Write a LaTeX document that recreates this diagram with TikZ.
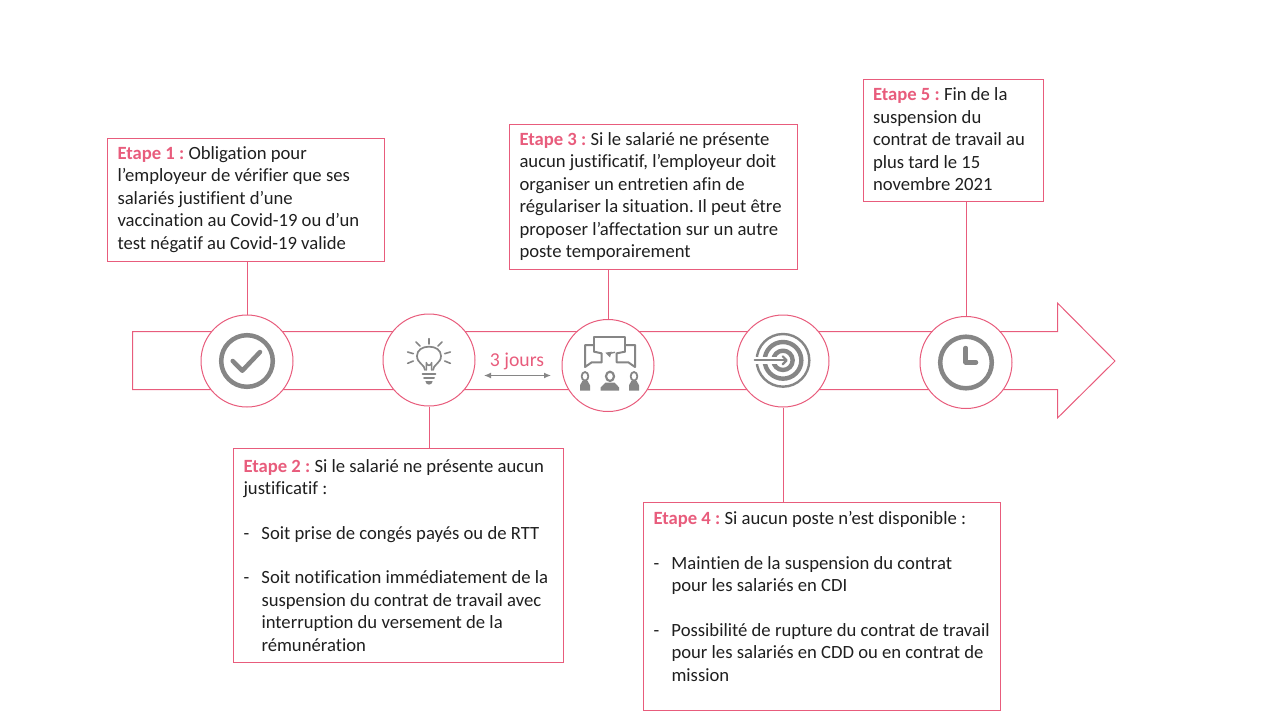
\documentclass[tikz,border=0pt]{standalone}
\usepackage{fontspec}
\usetikzlibrary{arrows.meta}
\setmainfont{Carlito}[Ligatures=NoCommon]
\frenchspacing
\definecolor{pinkline}{HTML}{E85C7C}
\definecolor{icongray}{HTML}{868686}
\newcommand{\etape}[1]{\textcolor{pinkline}{\textbf{Etape #1 :}}}
\newcommand{\dashitem}{\makebox[18pt][l]{-}}
\newcommand{\dashpad}{\hspace*{18pt}}
\tikzset{
  textbox/.style={draw=pinkline, line width=1pt, anchor=north west, align=flush left, inner xsep=10pt, inner ysep=0pt,
    font=\fontsize{18.67}{22.5}\selectfont, text=black!88},
  round/.style={draw=pinkline, line width=1pt, circle, fill=white, inner sep=0pt, minimum size=92pt},
  link/.style={draw=pinkline, line width=1pt},
  icon/.style={draw=icongray, line cap=round, line join=round},
}
\begin{document}
\begin{tikzpicture}[x=1pt, y=-1pt]
        \useasboundingbox (0, 0) rectangle (1280, 720);
        % main arrow
        \draw[pinkline, line width=1pt] (132.5, 331.5) -- (1057.5, 331.5) -- (1057.5, 303) -- (1115, 361)
          -- (1057.5, 418) -- (1057.5, 389.5) -- (132.5, 389.5) -- cycle;
        % steps
        \node[round] (c1) at (247, 361) {};
        \node[round] (c2) at (429, 360) {};
        \node[round] (c3) at (608, 365.5) {};
        \node[round] (c4) at (783, 361) {};
        \node[round] (c5) at (966, 362.5) {};
        % boxes
        \node[textbox, text width=257pt, minimum height=123pt] (box1) at (107, 137.5) {%
          \etape{1} Obligation pour\\
          l’employeur de vérifier que ses\\
          salariés justifient d’une\\
          vaccination au Covid-19 ou d’un\\
          test négatif au Covid-19 valide};
        \node[textbox, text width=310pt, minimum height=214.5pt] (box2) at (233, 447.5) {%
          \etape{2} Si le salarié ne présente aucun\\
          justificatif :\\[22pt]
          \dashitem Soit prise de congés payés ou de RTT\\[22pt]
          \dashitem Soit notification immédiatement de la\\
          \dashpad suspension du contrat de travail avec\\
          \dashpad interruption du versement de la\\
          \dashpad rémunération};
        \node[textbox, text width=268pt, minimum height=145.5pt] (box3) at (509, 123.5) {%
          \etape{3} Si le salarié ne présente\\
          aucun justificatif, l’employeur doit\\
          organiser un entretien afin de\\
          régulariser la situation. Il peut être\\
          proposer l’affectation sur un autre\\
          poste temporairement};
        \node[textbox, text width=337pt, minimum height=208.5pt] (box4) at (643, 501.5) {%
          \etape{4} Si aucun poste n’est disponible :\\[22pt]
          \dashitem Maintien de la suspension du contrat\\
          \dashpad pour les salariés en CDI\\[22pt]
          \dashitem Possibilité de rupture du contrat de travail\\
          \dashpad pour les salariés en CDD ou en contrat de\\
          \dashpad mission\\[-2.5pt]\mbox{}};
        \node[textbox, text width=161pt, minimum height=122pt, inner xsep=9.5pt] (box5) at (863, 79) {%
          \etape{5} Fin de la\\
          suspension du\\
          contrat de travail au\\
          plus tard le 15\\
          novembre 2021\\[-20.5pt]\mbox{}};
        % links
        \draw[link] (c1.north |- box1.south) -- (c1.north);
        \draw[link] (c2.south) -- (c2.south |- box2.north);
        \draw[link] (c3.north |- box3.south) -- (c3.north);
        \draw[link] (c4.south) -- (c4.south |- box4.north);
        \draw[link] (c5.north |- box5.south) -- (c5.north);
        % 3 jours
        \node[text=pinkline, font=\fontsize{19.7}{22}\selectfont, inner sep=0pt] (delay) at (517, 361.5) {3 jours};
        \coordinate (dl) at (484, 375.5);
        \coordinate (dr) at (551, 375.5);
        \draw[{Latex[length=7pt, width=6pt]}-{Latex[length=7pt, width=6pt]}, icongray, line width=1.2pt] (dl) -- (dr);
        % check
        \draw[icon, line width=4.5pt] (c1) circle (25.8);
        \draw[icon, line width=4.5pt] (232.7, 361) -- (242.3, 370.7) -- (260, 352);
        % bulb
        \begin{scope}[shift={(405, 334)}, scale=1/3]
          \draw[icon, line width=1.7pt] (60, 108) .. controls (60, 92) and (36, 88) .. (36, 66)
            .. controls (36, 48) and (52, 38) .. (72, 38) .. controls (92, 38) and (108, 48) .. (108, 66)
            .. controls (108, 88) and (84, 92) .. (84, 108);
          \draw[icon, line width=1.6pt] (64, 108) -- (64, 86) arc[start angle=180, end angle=0, radius=8] -- (80, 108);
          \foreach \xa/\ya/\xb/\yb in {72/14/72/30, 33/24/45/36, 111/24/99/36, 8/54/25/59, 136/54/119/59, 8/88/25/81, 136/88/119/81}
            \draw[icon, line width=1.6pt] (\xa, \ya) -- (\xb, \yb);
          \draw[icon, line width=2pt] (53, 121) -- (91, 121);
          \draw[icon, line width=2pt] (57, 133) -- (87, 133);
          \fill[icongray] (61, 141) -- (83, 141) arc[start angle=0, end angle=180, radius=11] -- cycle;
        \end{scope}
        % meeting
        \begin{scope}[shift={(470, 300)}, scale=1/3]
          \draw[icon, line width=2pt] (372, 155) -- (372, 112) -- (465, 112) -- (465, 155);
          \draw[icon, line width=2pt] (372, 135) -- (345, 135) -- (345, 201) -- (365, 187) -- (395, 187) -- (395, 160) -- (372, 155);
          \draw[icon, line width=2pt] (465, 135) -- (495, 135) -- (495, 201) -- (475, 187) -- (440, 187) -- (440, 160) -- (465, 155);
          \draw[icon, line width=1.4pt] (434, 157) -- (420, 160);
          \fill[icongray] (406, 158) -- (425, 155) -- (420, 172) -- cycle;
          \foreach \px in {345, 492} {
            \fill[icongray] (\px-15, 272) -- (\px-15, 256) -- (\px-8, 243) -- (\px+8, 243) -- (\px+15, 256) -- (\px+15, 272) -- cycle;
            \draw[icon, line width=1.8pt] (\px, 229) ellipse (10 and 13);
          }
          \fill[icongray] (392, 272) -- (392, 262) -- (406, 248) -- (434, 248) -- (447, 262) -- (447, 272) -- cycle;
          \draw[icon, line width=2.2pt] (420, 229) ellipse (12 and 14);
        \end{scope}
        % target
        \begin{scope}[shift={(750, 328)}, scale=1/3]
          \draw[icon, line width=2.4pt] (99, 97) circle (79);
          \draw[icon, line width=4.4pt] (99, 97) circle (55);
          \draw[icon, line width=4.4pt] (99, 97) circle (29);
          \fill[white] (10, 86) rectangle (114, 108);
          \draw[icon, line width=2.2pt] (14, 97) -- (108, 97);
          \draw[icon, line width=2.2pt] (98, 85) -- (110, 97) -- (98, 109);
        \end{scope}
        % clock
        \draw[icon, line width=4.5pt] (c5) circle (25.8);
        \draw[icon, line width=4.5pt] (965.7, 348) -- (965.7, 362.3) -- (976, 362.3);
      \end{tikzpicture}
\end{document}
